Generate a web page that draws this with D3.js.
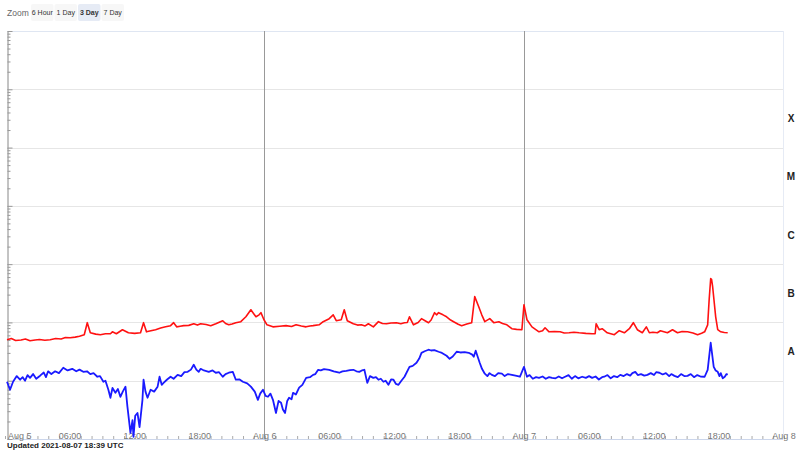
<!DOCTYPE html>
<html>
<head>
<meta charset="utf-8">
<script src="https://cdn.jsdelivr.net/npm/d3@7"></script>
<style>
  body { margin: 0; background: #fff; font-family: "Liberation Sans", Arial, sans-serif; }
  svg { display: block; }
</style>
</head>
<body>
<script>
// GOES X-ray flux, 3 day view starting Aug 5 2021 00:00 UTC
var startTime = Date.UTC(2021, 7, 5, 0, 0);
var endTime = Date.UTC(2021, 7, 8, 0, 0);

// long channel (0.1-0.8 nm), hours since start / flux W/m2
var redHours = [0, 0.4, 0.8, 1.3, 1.7, 2.13, 2.6, 3.0, 3.5, 3.99, 4.5, 5.0, 5.4, 5.84, 6.3, 6.7, 7.14, 7.42, 7.7, 8.2,
  8.63, 9.1, 9.56, 9.74, 10.11, 10.67, 11.22, 11.8, 12.34, 12.62, 12.89, 13.3, 13.73, 14.2, 14.66, 15.12, 15.4, 15.68,
  16.0, 16.33, 16.8, 17.26, 17.6, 17.9, 18.4, 18.83, 19.3, 19.94, 20.2, 20.5, 20.8, 21.15, 21.61, 22.08, 22.54, 22.82,
  23.01, 23.3, 23.47, 23.75, 24.03, 24.58, 25.2, 25.79, 26.3, 26.72, 27.2, 27.64, 28.0, 28.29, 28.85, 29.22, 29.78,
  30.15, 30.43, 30.89, 31.17, 31.45, 32.01, 32.4, 32.75, 33.1, 33.4, 33.86, 34.33, 34.7, 35.07, 35.5, 35.99, 36.4,
  36.74, 37.0, 37.2, 37.57, 38.0, 38.31, 38.6, 38.96, 39.2, 39.52, 39.7, 39.89, 40.3, 40.63, 41.0, 41.28, 41.7, 42.02,
  42.5, 42.95, 43.23, 43.6, 43.88, 44.16, 44.62, 44.99, 45.46, 45.8, 46.2, 46.66, 47.1, 47.59, 47.78, 48.06, 48.52,
  49.17, 49.5, 49.73, 50.1, 50.6, 51.12, 51.5, 51.95, 52.4, 52.88, 53.5, 54.08, 54.36, 54.45, 54.73, 55.01, 55.48,
  56.13, 56.59, 57.06, 57.52, 57.89, 58.26, 58.72, 59.09, 59.37, 59.7, 60.11, 60.39, 61.04, 61.51, 61.97, 62.4, 62.9,
  63.4, 63.83, 64.2, 64.48, 64.76, 64.9, 65.04, 65.12, 65.22, 65.5, 65.69, 65.97, 66.3, 66.61];
var redFlux = [5.05e-8, 5.3e-8, 4.9e-8, 5.0e-8, 5.2e-8, 4.85e-8, 5.0e-8, 5.1e-8, 4.95e-8, 5.05e-8, 5.3e-8, 5.2e-8, 5.5e-8, 5.46e-8, 5.6e-8, 5.8e-8, 6.15e-8, 9.9e-8, 6.65e-8, 6.3e-8,
  6.15e-8, 6.4e-8, 6.4e-8, 6.9e-8, 6.4e-8, 7.5e-8, 6.65e-8, 6.5e-8, 6.65e-8, 9.9e-8, 6.9e-8, 7.2e-8, 7.5e-8, 8.0e-8, 8.4e-8, 8.8e-8, 9.9e-8, 8.4e-8,
  8.6e-8, 8.8e-8, 8.9e-8, 9.5e-8, 9.0e-8, 9.5e-8, 9.2e-8, 8.8e-8, 9.5e-8, 1.07e-7, 9.6e-8, 9.1e-8, 9.4e-8, 9.9e-8, 1.03e-7, 1.25e-7, 1.65e-7, 1.40e-7,
  1.25e-7, 1.35e-7, 1.47e-7, 1.11e-7, 9.1e-8, 8.4e-8, 8.6e-8, 8.8e-8, 8.5e-8, 9.1e-8, 8.7e-8, 8.4e-8, 8.7e-8, 8.8e-8, 9.1e-8, 1.03e-7, 1.16e-7,
  1.35e-7, 1.07e-7, 1.11e-7, 1.65e-7, 1.07e-7, 9.5e-8, 9.0e-8, 9.1e-8, 8.7e-8, 9.5e-8, 8.4e-8, 1.03e-7, 9.6e-8, 9.5e-8, 9.8e-8, 9.9e-8, 9.5e-8,
  9.9e-8, 1.0e-7, 1.25e-7, 9.1e-8, 1.0e-7, 1.16e-7, 1.08e-7, 9.9e-8, 1.1e-7, 1.47e-7, 1.35e-7, 1.47e-7, 1.35e-7, 1.25e-7, 1.1e-7, 1.03e-7, 9.3e-8, 8.8e-8,
  9.4e-8, 9.9e-8, 2.77e-7, 1.86e-7, 1.35e-7, 1.03e-7, 1.16e-7, 9.9e-8, 1.03e-7, 9.6e-8, 9.1e-8, 7.8e-8, 7.6e-8, 7.5e-8, 2.01e-7, 1.11e-7, 8.4e-8,
  6.9e-8, 7.2e-8, 8.1e-8, 6.9e-8, 7.0e-8, 6.9e-8, 6.6e-8, 6.65e-8, 6.8e-8, 6.65e-8, 6.5e-8, 6.4e-8, 6.4e-8, 9.5e-8, 7.5e-8, 7.8e-8, 6.65e-8,
  6.15e-8, 7.2e-8, 6.65e-8, 7.8e-8, 9.9e-8, 7.5e-8, 6.65e-8, 8.4e-8, 6.65e-8, 6.8e-8, 6.65e-8, 7.2e-8, 6.65e-8, 7.5e-8, 6.65e-8, 7.0e-8, 6.9e-8,
  6.6e-8, 6.15e-8, 6.5e-8, 6.9e-8, 9.1e-8, 2.5e-7, 5.64e-7, 5.5e-7, 4.1e-7, 1.25e-7, 7.5e-8, 6.9e-8, 6.7e-8, 6.65e-8];

// short channel (0.05-0.4 nm)
var blueHours = [0, 0.28, 0.56, 0.9, 1.21, 1.45, 1.67, 1.9, 2.13, 2.41, 2.7, 3.06, 3.4, 3.6, 3.8, 4.1, 4.45, 4.8, 5.2,
  5.6, 6.03, 6.4, 6.7, 7.05, 7.4, 7.7, 8.0, 8.35, 8.6, 8.91, 9.1, 9.37, 9.56, 9.75, 10.02, 10.25, 10.48, 10.7, 10.95,
  11.13, 11.41, 11.6, 11.69, 11.85, 12.06, 12.25, 12.52, 12.62, 12.8, 12.99, 13.27, 13.6, 13.92, 14.1, 14.3, 14.47,
  14.8, 15.12, 15.4, 15.77, 16.1, 16.4, 16.7, 17.0, 17.26, 17.5, 17.72, 17.9, 18.2, 18.65, 19.0, 19.3, 19.6, 19.94,
  20.2, 20.5, 20.87, 21.15, 21.5, 21.8, 22.2, 22.54, 22.9, 23.19, 23.4, 23.66, 23.9, 24.12, 24.35, 24.58, 24.86, 25.1,
  25.33, 25.5, 25.7, 25.9, 26.07, 26.3, 26.44, 26.7, 27.0, 27.3, 27.65, 28.0, 28.29, 28.5, 28.76, 29.0, 29.3, 29.78,
  30.2, 30.71, 31.0, 31.36, 31.7, 32.01, 32.3, 32.56, 32.8, 33.03, 33.3, 33.55, 33.86, 34.1, 34.33, 34.55, 34.79, 35.0,
  35.25, 35.5, 35.72, 35.95, 36.18, 36.45, 36.74, 37.2, 37.5, 37.85, 38.1, 38.31, 38.6, 38.96, 39.2, 39.5, 39.89, 40.2,
  40.63, 40.91, 41.2, 41.56, 41.9, 42.3, 42.67, 43.0, 43.14, 43.32, 43.69, 43.9, 44.16, 44.4, 44.6, 44.81, 45.1, 45.4,
  45.74, 46.0, 46.3, 46.66, 47.0, 47.41, 47.78, 48.06, 48.3, 48.6, 48.9, 49.17, 49.5, 49.8, 50.1, 50.38, 50.7, 51.0,
  51.3, 51.58, 51.9, 52.2, 52.5, 52.8, 53.16, 53.5, 53.8, 54.08, 54.4, 54.7, 55.0, 55.2, 55.5, 55.8, 56.1, 56.4, 56.68,
  57.0, 57.3, 57.6, 57.8, 58.07, 58.3, 58.6, 58.9, 59.19, 59.5, 59.8, 60.0, 60.3, 60.6, 60.9, 61.2, 61.4, 61.69, 62.0,
  62.3, 62.6, 62.9, 63.2, 63.5, 63.8, 64.1, 64.48, 64.76, 65.04, 65.32, 65.5, 65.69, 65.85, 65.97, 66.15, 66.34, 66.5, 66.61];
var blueFlux = [9.6e-9, 7.0e-9, 9.6e-9, 1.2e-8, 1.04e-8, 1.15e-8, 1.0e-8, 1.25e-8, 1.12e-8, 1.3e-8, 1.08e-8, 1.22e-8, 1.38e-8, 1.15e-8, 1.45e-8, 1.3e-8, 1.45e-8, 1.35e-8, 1.67e-8,
  1.5e-8, 1.6e-8, 1.45e-8, 1.55e-8, 1.42e-8, 1.45e-8, 1.3e-8, 1.35e-8, 1.17e-8, 1.2e-8, 9.6e-9, 1.0e-8, 7.0e-9, 5.1e-9, 7.5e-9, 6.2e-9, 7.2e-9, 5.3e-9, 6.5e-9, 7.9e-9,
  3.6e-9, 1.27e-9, 2.1e-9, 1.09e-9, 2.5e-9, 2.8e-9, 1.6e-9, 4.7e-9, 1.04e-8, 6.5e-9, 5.1e-9, 7.0e-9, 6.5e-9, 7.9e-9, 1.17e-8, 8.5e-9, 9.2e-9,
  1.05e-8, 1.17e-8, 1.08e-8, 1.26e-8, 1.2e-8, 1.4e-8, 1.42e-8, 1.55e-8, 1.88e-8, 1.55e-8, 1.42e-8, 1.6e-8, 1.5e-8, 1.42e-8, 1.5e-8, 1.37e-8, 1.4e-8, 1.17e-8,
  1.3e-8, 1.37e-8, 1.42e-8, 1.04e-8, 1.05e-8, 9.6e-9, 9.0e-9, 7.9e-9, 6.5e-9, 4.7e-9, 6.0e-9, 7.0e-9, 5.5e-9, 5.3e-9, 6.0e-9, 4.7e-9, 2.8e-9, 4.5e-9,
  4.2e-9, 3.2e-9, 2.8e-9, 4.5e-9, 5.1e-9, 4.8e-9, 6.2e-9, 5.8e-9, 7.6e-9, 8.5e-9, 1.12e-8, 1.15e-8, 1.26e-8, 1.3e-8, 1.54e-8, 1.5e-8, 1.58e-8, 1.54e-8,
  1.45e-8, 1.37e-8, 1.45e-8, 1.48e-8, 1.52e-8, 1.54e-8, 1.45e-8, 1.42e-8, 1.5e-8, 1.54e-8, 9.2e-9, 1.2e-8, 1.12e-8, 1.15e-8, 1.04e-8, 1.08e-8, 9.6e-9, 1.0e-8,
  8.5e-9, 1.05e-8, 1.04e-8, 8.8e-9, 8.5e-9, 1.0e-8, 1.17e-8, 1.73e-8, 1.8e-8, 2.03e-8, 2.4e-8, 3.01e-8, 3.2e-8, 3.4e-8, 3.3e-8, 3.35e-8, 3.14e-8, 3.0e-8,
  2.68e-8, 2.38e-8, 2.6e-8, 3.14e-8, 3.05e-8, 3.1e-8, 3.01e-8, 2.8e-8, 2.58e-8, 3.27e-8, 2.03e-8, 1.6e-8, 1.32e-8, 1.2e-8, 1.35e-8, 1.26e-8, 1.2e-8, 1.35e-8,
  1.32e-8, 1.2e-8, 1.3e-8, 1.26e-8, 1.22e-8, 1.17e-8, 1.73e-8, 1.17e-8, 1.25e-8, 1.08e-8, 1.15e-8, 1.12e-8, 1.18e-8, 1.08e-8, 1.15e-8, 1.12e-8, 1.1e-8, 1.18e-8,
  1.1e-8, 1.17e-8, 1.25e-8, 1.08e-8, 1.2e-8, 1.1e-8, 1.17e-8, 1.12e-8, 1.2e-8, 1.12e-8, 1.18e-8, 1.05e-8, 1.15e-8, 1.17e-8, 1.25e-8, 1.1e-8, 1.2e-8, 1.15e-8, 1.26e-8,
  1.2e-8, 1.3e-8, 1.22e-8, 1.35e-8, 1.42e-8, 1.25e-8, 1.3e-8, 1.22e-8, 1.26e-8, 1.35e-8, 1.25e-8, 1.4e-8, 1.37e-8, 1.28e-8, 1.35e-8, 1.2e-8, 1.3e-8, 1.21e-8, 1.15e-8,
  1.3e-8, 1.2e-8, 1.21e-8, 1.3e-8, 1.15e-8, 1.25e-8, 1.18e-8, 1.17e-8, 1.54e-8, 4.48e-8, 1.73e-8, 1.5e-8, 1.42e-8, 1.2e-8, 1.35e-8, 1.1e-8, 1.17e-8, 1.3e-8, 1.26e-8];

var flareClasses = ["A", "B", "C", "M", "X"];
var classFlux = [1e-8, 1e-7, 1e-6, 1e-5, 1e-4];
var zoomButtons = ["6 Hour", "1 Day", "3 Day", "7 Day"];
var selectedZoom = "3 Day";
var updatedText = "Updated 2021-08-07 18:39 UTC";

(function () {
  var w = 800, h = 450;
  var plotLeft = 5, plotRight = 784, plotTop = 31, plotBottom = 439;
  var axisX = 7;

  var svg = d3.select("body").append("svg")
      .attr("width", w)
      .attr("height", h);

  var x = d3.scaleUtc().domain([new Date(startTime), new Date(endTime)]).range([plotLeft, plotRight]);
  var y = d3.scaleLog().domain([1e-9, 1e-2]).range([plotBottom, plotTop]);

  // horizontal grid at each decade
  var decades = d3.range(-8, -2).map(function(e) { return Math.pow(10, e); });
  svg.append("g").selectAll("line")
      .data(decades)
    .enter().append("line")
      .attr("x1", axisX).attr("x2", plotRight - 1)
      .attr("y1", function(d) { return Math.round(y(d)) + 0.5; })
      .attr("y2", function(d) { return Math.round(y(d)) + 0.5; })
      .attr("stroke", "#e6e6e6");

  // top border, right edge, bottom axis line
  svg.append("line").attr("x1", axisX).attr("x2", plotRight - 1).attr("y1", plotTop + 0.5).attr("y2", plotTop + 0.5).attr("stroke", "#dfe6f2");
  svg.append("line").attr("x1", plotRight - 0.5).attr("x2", plotRight - 0.5).attr("y1", plotTop).attr("y2", plotBottom).attr("stroke", "#e6ebf5");
  svg.append("line").attr("x1", axisX).attr("x2", plotRight - 1).attr("y1", plotBottom + 0.5).attr("y2", plotBottom + 0.5).attr("stroke", "#ccd6eb");

  // day boundary lines
  svg.append("g").selectAll("line")
      .data(d3.utcDay.range(new Date(startTime + 1), new Date(endTime)))
    .enter().append("line")
      .attr("x1", function(d) { return Math.floor(x(d)) + 0.5; })
      .attr("x2", function(d) { return Math.floor(x(d)) + 0.5; })
      .attr("y1", plotTop).attr("y2", plotBottom)
      .attr("stroke", "#999");

  // left log axis, ticks pointing inward
  var tickVals = [];
  d3.range(-9, -1).forEach(function(e) {
    for (var m = 1; m < 10; m++) { if (e < -2 || m == 1) tickVals.push(m * Math.pow(10, e)); }
  });
  var yAxis = d3.axisRight(y)
      .tickValues(tickVals)
      .tickFormat("")
      .tickSizeOuter(0);
  var yg = svg.append("g").attr("transform", "translate(" + (axisX + 0.5) + ",0)").call(yAxis);
  yg.select(".domain").attr("stroke", "#888");
  yg.selectAll(".tick line")
      .attr("stroke", "#999")
      .attr("x2", function(d, i) { return i % 9 == 0 ? 5 : 3; });

  // x hour ticks
  var xAxis = d3.axisBottom(x)
      .ticks(d3.utcHour.every(1))
      .tickFormat("")
      .tickSizeInner(-3)
      .tickSizeOuter(0);
  var xg = svg.append("g").attr("transform", "translate(0," + plotBottom + ")").call(xAxis);
  xg.select(".domain").remove();
  xg.selectAll(".tick line").attr("stroke", "#aaa");

  // x labels every 6 hours
  var labelTicks = d3.utcHour.every(6).range(new Date(startTime), new Date(endTime + 1));
  var fmtDay = d3.utcFormat("%b %-d"), fmtHour = d3.utcFormat("%H:%M");
  svg.append("g").selectAll("text")
      .data(labelTicks)
    .enter().append("text")
      .attr("x", function(d, i) { return i == 0 ? axisX + 1 : x(d); })
      .attr("y", plotBottom)
      .attr("text-anchor", function(d, i) { return i == 0 ? "start" : "middle"; })
      .attr("font-size", 9)
      .attr("fill", "#777")
      .text(function(d) { return d.getUTCHours() == 0 ? fmtDay(d) : fmtHour(d); });

  // flux lines
  var line = d3.line()
      .x(function(d) { return x(new Date(startTime + d[0] * 3600000)) + 2; })
      .y(function(d) { return y(d[1]); });

  svg.append("path")
      .datum(d3.zip(redHours, redFlux))
      .attr("d", line)
      .attr("fill", "none")
      .attr("stroke", "#ff1111")
      .attr("stroke-width", 1.6)
      .attr("stroke-linejoin", "round");

  svg.append("path")
      .datum(d3.zip(blueHours, blueFlux))
      .attr("d", line)
      .attr("fill", "none")
      .attr("stroke", "#1a1aff")
      .attr("stroke-width", 1.8)
      .attr("stroke-linejoin", "round");

  // flare class labels on the right
  svg.append("g").selectAll("text")
      .data(flareClasses)
    .enter().append("text")
      .attr("x", 791)
      .attr("y", function(d, i) { return y(classFlux[i] * Math.sqrt(10)) + 3.5; })
      .attr("text-anchor", "middle")
      .attr("font-size", 10)
      .attr("font-weight", "bold")
      .attr("fill", "#222")
      .text(function(d) { return d; });

  // zoom buttons
  svg.append("text")
      .attr("x", 7).attr("y", 16)
      .attr("font-size", 8.5)
      .attr("fill", "#666")
      .text("Zoom");

  var btnX = d3.scaleBand().domain(zoomButtons).range([31, 124]).paddingInner(0.04);
  var btn = svg.append("g").selectAll("g")
      .data(zoomButtons)
    .enter().append("g")
      .attr("transform", function(d) { return "translate(" + btnX(d) + ",4)"; });
  btn.append("rect")
      .attr("width", btnX.bandwidth())
      .attr("height", 17)
      .attr("rx", 2)
      .attr("fill", function(d) { return d == selectedZoom ? "#e6ebf5" : "#f7f7f7"; });
  btn.append("text")
      .attr("x", btnX.bandwidth() / 2)
      .attr("y", 11)
      .attr("text-anchor", "middle")
      .attr("font-size", 7)
      .attr("font-weight", function(d) { return d == selectedZoom ? "bold" : "normal"; })
      .attr("fill", "#333")
      .text(function(d) { return d; });

  // footer
  svg.append("text")
      .attr("x", 7).attr("y", 448)
      .attr("font-size", 8)
      .attr("font-weight", "bold")
      .attr("fill", "#222")
      .text(updatedText);
})();
</script>
</body>
</html>
